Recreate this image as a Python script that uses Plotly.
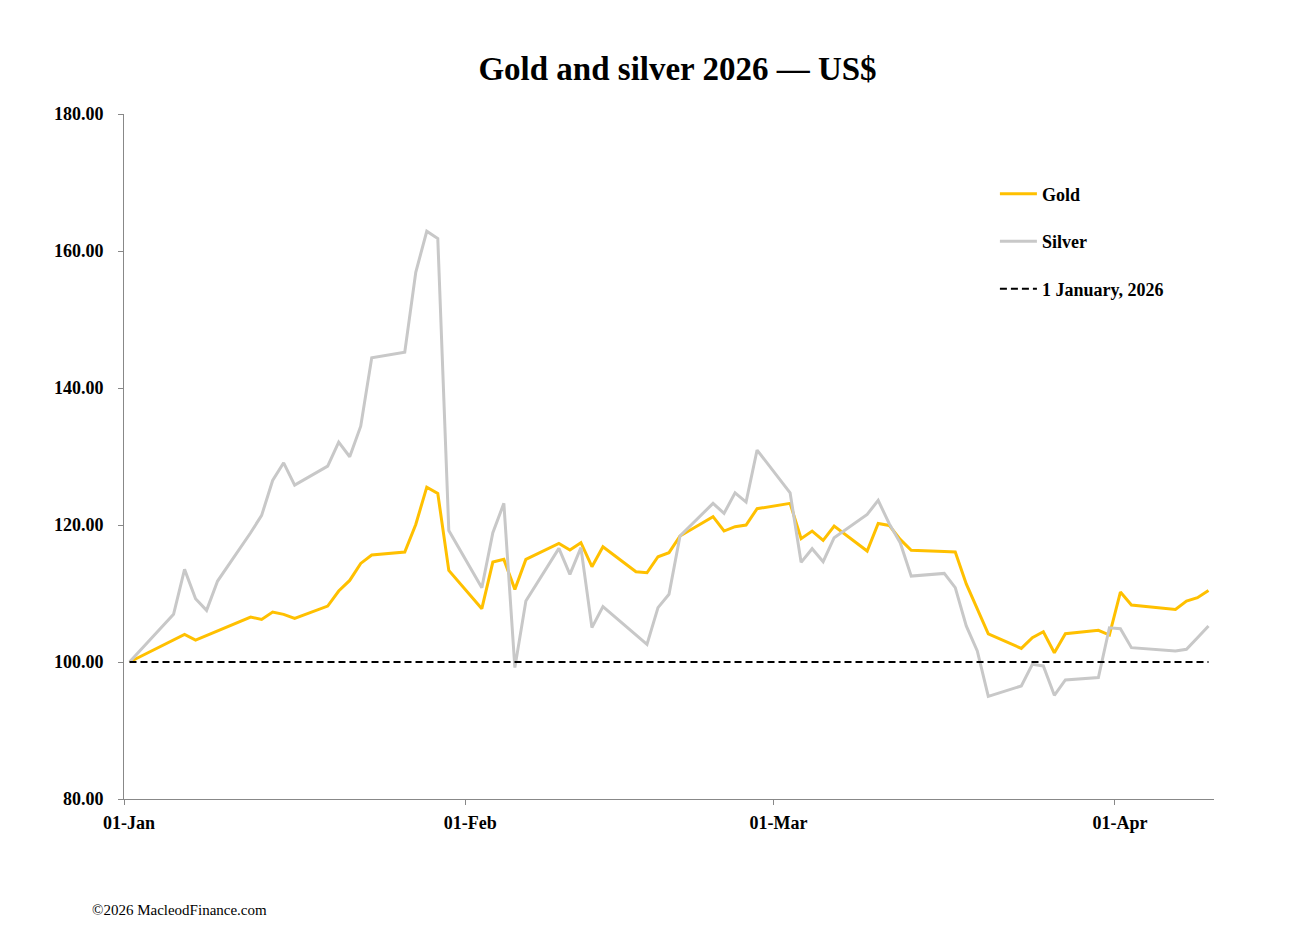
import pandas as pd
import plotly.graph_objects as go

dates = ["2026-01-01", "2026-01-05", "2026-01-06", "2026-01-07", "2026-01-08", "2026-01-09",
         "2026-01-12", "2026-01-13", "2026-01-14", "2026-01-15", "2026-01-16",
         "2026-01-19", "2026-01-20", "2026-01-21", "2026-01-22", "2026-01-23",
         "2026-01-26", "2026-01-27", "2026-01-28", "2026-01-29", "2026-01-30",
         "2026-02-02", "2026-02-03", "2026-02-04", "2026-02-05", "2026-02-06",
         "2026-02-09", "2026-02-10", "2026-02-11", "2026-02-12", "2026-02-13",
         "2026-02-16", "2026-02-17", "2026-02-18", "2026-02-19", "2026-02-20",
         "2026-02-23", "2026-02-24", "2026-02-25", "2026-02-26", "2026-02-27",
         "2026-03-02", "2026-03-03", "2026-03-04", "2026-03-05", "2026-03-06",
         "2026-03-09", "2026-03-10", "2026-03-11", "2026-03-12", "2026-03-13",
         "2026-03-16", "2026-03-17", "2026-03-18", "2026-03-19", "2026-03-20",
         "2026-03-23", "2026-03-24", "2026-03-25", "2026-03-26", "2026-03-27",
         "2026-03-30", "2026-03-31", "2026-04-01", "2026-04-02",
         "2026-04-06", "2026-04-07", "2026-04-08", "2026-04-09"]

gold = [100.00, 103.16, 104.04, 103.21, 103.89, 104.57,
        106.57, 106.22, 107.29, 106.95, 106.37,
        108.17, 110.36, 111.91, 114.39, 115.61,
        116.05, 120.08, 125.53, 124.61, 113.37,
        107.78, 114.59, 114.98, 110.60, 114.98,
        117.31, 116.34, 117.41, 113.91, 116.83,
        113.18, 113.03, 115.37, 115.96, 118.39,
        121.21, 119.12, 119.75, 120.00, 122.38,
        123.16, 118.00, 119.12, 117.75, 119.84,
        116.20, 120.23, 119.94, 117.90, 116.32,
        116.13, 116.05, 111.40, 107.68, 104.10,
        101.99, 103.55, 104.42, 101.36, 104.13,
        104.62, 103.94, 110.21, 108.32,
        107.68, 108.90, 109.39, 110.45]

silver = [100.00, 106.95, 113.52, 109.24, 107.54, 111.82,
          118.87, 121.40, 126.50, 129.08, 125.82,
          128.59, 132.10, 129.96, 134.43, 144.40,
          145.23, 156.90, 162.88, 161.81, 119.20,
          110.85, 118.88, 123.16, 99.18, 108.91,
          116.59, 112.80, 116.69, 105.02, 108.08,
          103.95, 102.58, 107.94, 109.88, 118.39,
          123.16, 121.70, 124.71, 123.35, 130.94,
          124.71, 114.55, 116.54, 114.64, 118.14,
          121.55, 123.59, 120.20, 117.41, 112.54,
          112.93, 110.85, 105.26, 101.61, 94.98,
          96.50, 99.66, 99.42, 95.14, 97.38,
          97.72, 105.00, 104.87, 102.09,
          101.61, 101.85, 103.55, 105.25]

baseline = [100.0] * len(dates)

tick_dates = ["2026-01-01", "2026-02-01", "2026-03-01", "2026-04-01"]
tick_text = ["01-Jan", "01-Feb", "01-Mar", "01-Apr"]

# points centred within each day (date-axis "between tick marks")
x = pd.to_datetime(dates) + pd.Timedelta(hours=12)

FONT = "Liberation Serif"

fig = go.Figure()
fig.add_trace(go.Scatter(x=x, y=gold, mode="lines", name="Gold",
                         line=dict(color="#FFC000", width=3), legendgroup="g"))
fig.add_trace(go.Scatter(x=x, y=silver, mode="lines", name="Silver",
                         line=dict(color="#C8C8C8", width=3), legendgroup="s"))
fig.add_trace(go.Scatter(x=x, y=baseline, mode="lines", name="1 January, 2026",
                         line=dict(color="#000000", width=2, dash="7px,4px"), legendgroup="b"))

fig.update_layout(
    width=1316, height=950,
    margin=dict(l=124, r=102, t=114, b=151),
    paper_bgcolor="white", plot_bgcolor="white",
    font=dict(family=FONT, color="#000000"),
    title=dict(text="Gold and silver 2026 — US$", x=(677.5 - 124) / 1090, xref="paper",
               xanchor="center",
               y=1 - 68 / 950, yref="container", yanchor="middle",
               font=dict(size=33, family=FONT, color="#000000", weight="bold")),
    showlegend=True,
    legend=dict(x=0.799, y=0.91, xanchor="left", yanchor="top",
                font=dict(size=18, family=FONT, color="#000000", weight="bold"),
                tracegroupgap=21, itemwidth=37, bgcolor="rgba(0,0,0,0)"),
    annotations=[dict(text="©2026 MacleodFinance.com", xref="paper", yref="paper",
                      x=(90 - 124) / 1090, y=-(910 - 799) / 685, xanchor="left", yanchor="middle",
                      showarrow=False, font=dict(size=15, family=FONT, color="#000000"))],
)

fig.update_xaxes(
    type="date",
    range=["2026-01-01", "2026-04-10"],
    tickvals=pd.to_datetime(tick_dates), ticktext=tick_text,
    ticks="outside", ticklen=5, tickcolor="#888888", tickwidth=1,
    showline=True, linecolor="#888888", linewidth=1,
    showgrid=False, zeroline=False,
    tickfont=dict(size=18, family=FONT, color="#000000", weight="bold"),
    ticklabelshift=5, ticklabelstandoff=2,
)
fig.update_yaxes(
    range=[80, 180], tick0=80, dtick=20, tickformat=".2f",
    ticks="outside", ticklen=5, tickcolor="#888888", tickwidth=1,
    showline=True, linecolor="#888888", linewidth=1,
    showgrid=False, zeroline=False,
    tickfont=dict(size=18, family=FONT, color="#000000", weight="bold"),
    ticklabelstandoff=11,
)

fig.write_html("out.html")
